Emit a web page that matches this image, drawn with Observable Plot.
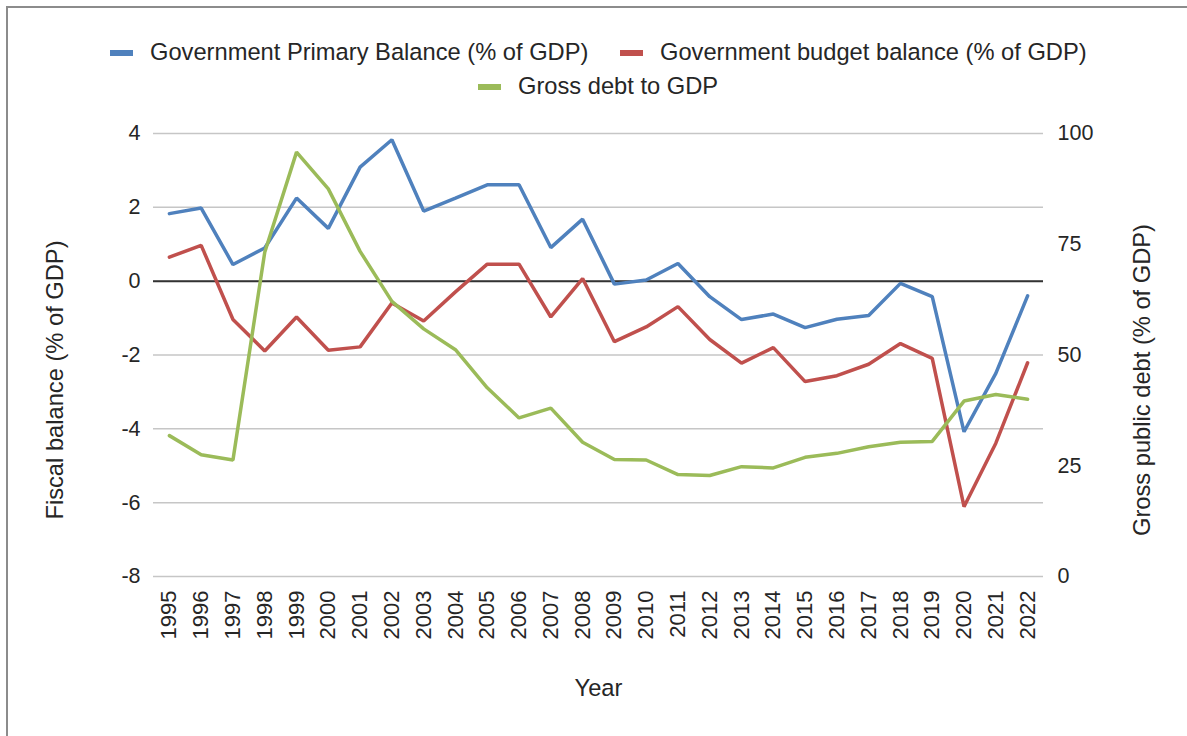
<!DOCTYPE html>
<html><head><meta charset="utf-8">
<script src="https://cdn.jsdelivr.net/npm/d3@7"></script>
<script src="https://cdn.jsdelivr.net/npm/@observablehq/plot@0.6"></script>
<style>
html,body{margin:0;padding:0;background:#fff;overflow:hidden;width:1187px;height:736px;}
body{font-family:"Liberation Sans",Arial,sans-serif;color:#262626;position:relative;}
#frame{position:absolute;left:6px;top:6px;width:1300px;height:900px;border-top:2px solid #8c8c8c;border-left:2px solid #8c8c8c;box-sizing:border-box;}
#legend{position:relative;height:100px;}
.sw{position:absolute;width:23px;height:6px;}
.lt{position:absolute;font-size:23.7px;line-height:26px;white-space:nowrap;color:#262626;}
#chart{position:relative;height:636px;}
</style></head><body>
<div id="frame"></div>
<div id="legend"></div>
<div id="chart"></div>
<script>
const years = ["1995","1996","1997","1998","1999","2000","2001","2002","2003","2004","2005","2006","2007","2008","2009","2010","2011","2012","2013","2014","2015","2016","2017","2018","2019","2020","2021","2022"];
const primaryBalance = [1.83,1.98,0.45,0.90,2.25,1.43,3.09,3.83,1.90,2.25,2.61,2.61,0.91,1.68,-0.08,0.03,0.48,-0.42,-1.04,-0.89,-1.26,-1.03,-0.93,-0.06,-0.42,-4.08,-2.50,-0.40];
const budgetBalance = [0.65,0.97,-1.04,-1.89,-0.97,-1.87,-1.78,-0.59,-1.08,-0.29,0.46,0.46,-0.97,0.07,-1.64,-1.24,-0.69,-1.58,-2.22,-1.80,-2.72,-2.56,-2.25,-1.69,-2.09,-6.11,-4.39,-2.21];
const grossDebt = [31.8,27.5,26.3,73.2,95.8,87.5,73.4,62.1,55.9,51.2,42.6,35.8,38.0,30.3,26.4,26.3,23.0,22.8,24.8,24.5,26.9,27.8,29.3,30.3,30.5,39.6,41.1,40.0];
const leftTicks = [-8,-6,-4,-2,0,2,4];
const rightTicks = [0,25,50,75,100];
const seriesNames = ["Government Primary Balance (% of GDP)","Government budget balance (% of GDP)","Gross debt to GDP"];
const seriesColors = ["#4F81BD","#C0504D","#9BBB59"];
const leftTitle = "Fiscal balance (% of GDP)";
const rightTitle = "Gross public debt (% of GDP)";
const xTitle = "Year";

// right axis (0..100) shares the frame with the left axis (-8..4)
const leftDomain = [-8, 4];
const rightDomain = [0, 100];
const toLeft = r => leftDomain[0] + (r - rightDomain[0]) * (leftDomain[1] - leftDomain[0]) / (rightDomain[1] - rightDomain[0]);
const toRight = v => rightDomain[0] + (v - leftDomain[0]) * (rightDomain[1] - rightDomain[0]) / (leftDomain[1] - leftDomain[0]);

// legend
const legend = document.getElementById("legend");
const legendPos = [{sw:110, tx:150, cy:52},{sw:620, tx:660, cy:52},{sw:478, tx:518, cy:86}];
seriesNames.forEach((n,i) => {
  const p = legendPos[i];
  const s = document.createElement("div");
  s.className = "sw"; s.style.left = p.sw + "px"; s.style.top = (p.cy - 2) + "px"; s.style.background = seriesColors[i];
  legend.appendChild(s);
  const t = document.createElement("div");
  t.className = "lt"; t.style.left = p.tx + "px"; t.style.top = (p.cy - 13) + "px"; t.textContent = n;
  legend.appendChild(t);
});

const rows = years.map((y,i) => ({year:y, pb:primaryBalance[i], bb:budgetBalance[i], debt:grossDebt[i]}));

const chart = Plot.plot({
  width: 1187, height: 636,
  marginTop: 33, marginBottom: 160, marginLeft: 153, marginRight: 144,
  style: {fontFamily: '"Liberation Sans", Arial, sans-serif', fontSize: "21.5px", color: "#262626", background: "transparent", overflow: "visible"},
  x: {type: "point", domain: years, padding: 0.5, round: false},
  y: {domain: leftDomain},
  marks: [
    Plot.gridY(leftTicks, {stroke: "#c6c6c6", strokeOpacity: 1, strokeWidth: 1.5}),
    Plot.ruleY([0], {stroke: "#333", strokeWidth: 2}),
    Plot.line(rows, {x: "year", y: "pb", stroke: seriesColors[0], strokeWidth: 3.5, strokeLinejoin: "miter"}),
    Plot.line(rows, {x: "year", y: "bb", stroke: seriesColors[1], strokeWidth: 3.5, strokeLinejoin: "miter"}),
    Plot.line(rows, {x: "year", y: d => toLeft(d.debt), stroke: seriesColors[2], strokeWidth: 3.5, strokeLinejoin: "miter"}),
    Plot.axisY(leftTicks, {anchor: "left", tickSize: 0, tickPadding: 13, label: null, tickFormat: d => String(d)}),
    Plot.axisY(rightTicks.map(toLeft), {anchor: "right", tickSize: 0, tickPadding: 14, label: null, tickFormat: d => String(Math.round(toRight(d)))}),
    Plot.axisX({anchor: "bottom", tickRotate: -90, tickSize: 0, tickPadding: 14, label: null, fontSize: 22}),
    Plot.text([leftTitle], {text: d => d, frameAnchor: "left", textAnchor: "middle", lineAnchor: "middle", dx: -98, dy: 25, rotate: -90, fontSize: 23.7}),
    Plot.text([rightTitle], {text: d => d, frameAnchor: "right", textAnchor: "middle", lineAnchor: "middle", dx: 99, dy: 25, rotate: -90, fontSize: 23.7}),
    Plot.text([xTitle], {text: d => d, frameAnchor: "bottom", textAnchor: "middle", lineAnchor: "middle", dy: 112, fontSize: 23.7})
  ]
});
document.getElementById("chart").appendChild(chart);
</script>
</body></html>
